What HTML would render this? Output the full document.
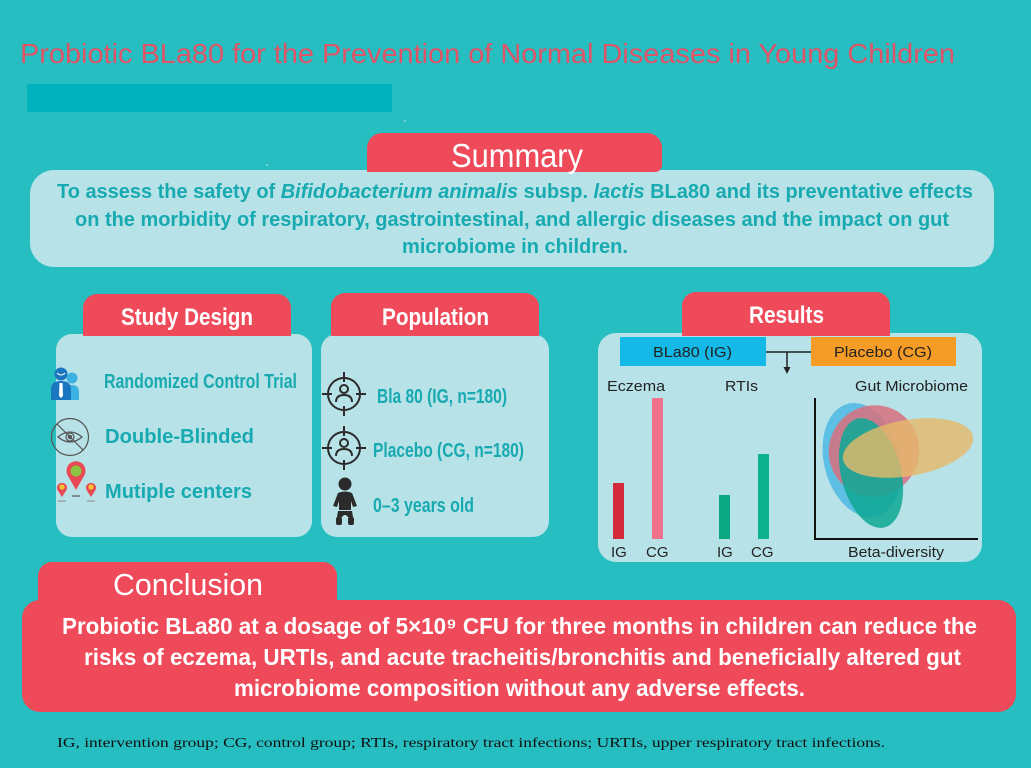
<!DOCTYPE html>
<html>
<head>
<meta charset="utf-8">
<style>
html,body{margin:0;padding:0;background:#27bec1;}
svg{display:block;}
</style>
</head>
<body>
<svg width="1031" height="768" viewBox="0 0 1031 768" xmlns="http://www.w3.org/2000/svg" font-family="'Liberation Sans', Arial, sans-serif">
  <rect x="0" y="0" width="1031" height="768" fill="#27bec1"/>

  <!-- Title -->
  <text x="20" y="63" font-size="28" fill="#e05468" textLength="935" lengthAdjust="spacingAndGlyphs">Probiotic BLa80 for the Prevention of Normal Diseases in Young Children</text>
  <rect x="27" y="84" width="365" height="28" fill="#00b2bb"/>
  <circle cx="405" cy="121" r="0.8" fill="#cfeff0"/>
  <circle cx="267" cy="165" r="0.8" fill="#cfeff0"/>

  <!-- Summary -->
  <rect x="30" y="170" width="964" height="97" rx="24" fill="#b7e2e7"/>
  <path d="M367,175 L367,148 A15,15 0 0 1 382,133 L647,133 A15,15 0 0 1 662,148 L662,165 A7,7 0 0 1 655,172 L367,172 Z" fill="#ef4a59"/>
  <text x="451" y="167" font-size="33" fill="#ffffff" textLength="132" lengthAdjust="spacingAndGlyphs">Summary</text>
  <g font-weight="bold" font-size="20.5" fill="#17aab0">
    <text x="57" y="198" textLength="916" lengthAdjust="spacingAndGlyphs">To assess the safety of <tspan font-style="italic">Bifidobacterium animalis</tspan> subsp. <tspan font-style="italic">lactis</tspan> BLa80 and its preventative effects</text>
    <text x="75" y="226" textLength="874" lengthAdjust="spacingAndGlyphs">on the morbidity of respiratory, gastrointestinal, and allergic diseases and the impact on gut</text>
    <text x="402" y="253" textLength="226" lengthAdjust="spacingAndGlyphs">microbiome in children.</text>
  </g>

  <!-- Study Design -->
  <rect x="56" y="334" width="256" height="203" rx="16" fill="#b7e2e7"/>
  <path d="M83,336 L83,308 A14,14 0 0 1 97,294 L277,294 A14,14 0 0 1 291,308 L291,336 Z" fill="#ef4a59"/>
  <text x="121" y="325" font-size="24" font-weight="bold" fill="#ffffff" textLength="132" lengthAdjust="spacingAndGlyphs">Study Design</text>

  <!-- person icon -->
  <g>
    <circle cx="72" cy="378" r="5.5" fill="#3bb3e2"/>
    <path d="M64,400 L64,392 Q64,385 72,385 Q79,385 79,392 L79,400 Z" fill="#3bb3e2"/>
    <circle cx="61" cy="374" r="6.5" fill="#1b76c0"/>
    <path d="M51,400 L51,389 Q51,381 61,381 Q71,381 71,389 L71,400 Z" fill="#1b76c0"/>
    <path d="M59.5,383 L62.5,383 L63,396 L61,398 L59,396 Z" fill="#ffffff"/>
    <path d="M57,373 Q61,377 65,373" stroke="#ffffff" stroke-width="1" fill="none"/>
  </g>
  <text x="104" y="388" font-size="20" font-weight="bold" fill="#17aab0" textLength="193" lengthAdjust="spacingAndGlyphs">Randomized Control Trial</text>

  <!-- eye icon -->
  <g fill="none" stroke="#555" stroke-width="1.2">
    <circle cx="70" cy="437" r="18.5"/>
    <path d="M58,437 Q70,427 82,437 Q70,447 58,437 Z"/>
    <circle cx="70" cy="437" r="4"/>
    <circle cx="70" cy="437" r="1.6" fill="#555"/>
    <line x1="57" y1="424" x2="83" y2="450"/>
  </g>
  <text x="105" y="443" font-size="20" font-weight="bold" fill="#17aab0" textLength="149" lengthAdjust="spacingAndGlyphs">Double-Blinded</text>

  <!-- pins icon -->
  <g>
    <path d="M76,490 L67.5,475 A9.5,9.5 0 1 1 84.5,475 Z" fill="#e84a55"/>
    <circle cx="76" cy="471" r="5.5" fill="#8cc53f"/>
    <path d="M62,497 L57.5,490 A5,5 0 1 1 66.5,490 Z" fill="#e84a55"/>
    <circle cx="62" cy="487" r="2.6" fill="#f8c630"/>
    <path d="M91,497 L86.5,490 A5,5 0 1 1 95.5,490 Z" fill="#e84a55"/>
    <circle cx="91" cy="487" r="2.6" fill="#f8c630"/>
    <line x1="72" y1="496" x2="80" y2="496" stroke="#555" stroke-width="1.2"/>
    <line x1="58" y1="501" x2="66" y2="501" stroke="#888" stroke-width="1"/>
    <line x1="87" y1="501" x2="95" y2="501" stroke="#888" stroke-width="1"/>
  </g>
  <text x="105" y="498" font-size="20" font-weight="bold" fill="#17aab0" textLength="147" lengthAdjust="spacingAndGlyphs">Mutiple centers</text>

  <!-- Population -->
  <rect x="321" y="334" width="228" height="203" rx="16" fill="#b7e2e7"/>
  <path d="M331,336 L331,307 A14,14 0 0 1 345,293 L525,293 A14,14 0 0 1 539,307 L539,336 Z" fill="#ef4a59"/>
  <text x="382" y="325" font-size="24" font-weight="bold" fill="#ffffff" textLength="107" lengthAdjust="spacingAndGlyphs">Population</text>

  <!-- crosshair icons -->
  <g fill="none" stroke="#2b2b2b" stroke-width="2">
    <circle cx="344" cy="394" r="16"/>
    <line x1="344" y1="372" x2="344" y2="382"/>
    <line x1="344" y1="406" x2="344" y2="416"/>
    <line x1="322" y1="394" x2="332" y2="394"/>
    <line x1="356" y1="394" x2="366" y2="394"/>
    <circle cx="344" cy="389" r="4"/>
    <path d="M336,402 Q336,395 344,395 Q352,395 352,402"/>

    <circle cx="344" cy="448" r="16"/>
    <line x1="344" y1="426" x2="344" y2="436"/>
    <line x1="344" y1="460" x2="344" y2="470"/>
    <line x1="322" y1="448" x2="332" y2="448"/>
    <line x1="356" y1="448" x2="366" y2="448"/>
    <circle cx="344" cy="443" r="4"/>
    <path d="M336,456 Q336,449 344,449 Q352,449 352,456"/>
  </g>
  <!-- baby icon -->
  <g fill="#2b2b2b">
    <circle cx="345" cy="484" r="6.5"/>
    <path d="M338,493 Q345,490 352,493 L357,506 L353,507 L351,501 L351,510 L339,510 L339,501 L337,507 L333,506 Z"/>
    <path d="M338,511 L352,511 L353,517 Q349,519 346,515 L344,515 Q341,519 337,517 Z"/>
    <rect x="336" y="517" width="6" height="8" rx="2"/>
    <rect x="348" y="517" width="6" height="8" rx="2"/>
  </g>
  <g font-size="20" font-weight="bold" fill="#17aab0">
    <text x="377" y="403" textLength="130" lengthAdjust="spacingAndGlyphs">Bla 80 (IG, n=180)</text>
    <text x="373" y="457" textLength="151" lengthAdjust="spacingAndGlyphs">Placebo (CG, n=180)</text>
    <text x="373" y="512" textLength="101" lengthAdjust="spacingAndGlyphs">0–3 years old</text>
  </g>

  <!-- Results -->
  <rect x="598" y="333" width="384" height="229" rx="18" fill="#b7e2e7"/>
  <path d="M682,336 L682,306 A14,14 0 0 1 696,292 L876,292 A14,14 0 0 1 890,306 L890,336 Z" fill="#ef4a59"/>
  <text x="749" y="323" font-size="24" font-weight="bold" fill="#ffffff" textLength="75" lengthAdjust="spacingAndGlyphs">Results</text>

  <rect x="620" y="337" width="146" height="29" fill="#14b9e8"/>
  <rect x="811" y="337" width="145" height="29" fill="#f59c26"/>
  <g font-size="15" fill="#222">
    <text x="653" y="357" textLength="79" lengthAdjust="spacingAndGlyphs">BLa80 (IG)</text>
    <text x="834" y="357" textLength="98" lengthAdjust="spacingAndGlyphs">Placebo (CG)</text>
    <text x="607" y="391" textLength="58" lengthAdjust="spacingAndGlyphs">Eczema</text>
    <text x="725" y="391" textLength="33" lengthAdjust="spacingAndGlyphs">RTIs</text>
    <text x="855" y="391" textLength="113" lengthAdjust="spacingAndGlyphs">Gut Microbiome</text>
    <text x="611" y="557">IG</text>
    <text x="646" y="557">CG</text>
    <text x="717" y="557">IG</text>
    <text x="751" y="557">CG</text>
    <text x="848" y="557" textLength="96" lengthAdjust="spacingAndGlyphs">Beta-diversity</text>
  </g>
  <line x1="766" y1="352" x2="811" y2="352" stroke="#222" stroke-width="1.5"/>
  <line x1="787" y1="352" x2="787" y2="368" stroke="#222" stroke-width="1.5"/>
  <path d="M783.5,367 L790.5,367 L787,374 Z" fill="#222"/>

  <!-- bars -->
  <rect x="613" y="483" width="11" height="56" fill="#d2293b"/>
  <rect x="652" y="398" width="11" height="141" fill="#ef718a"/>
  <rect x="719" y="495" width="11" height="44" fill="#0ba882"/>
  <rect x="758" y="454" width="11" height="85" fill="#0db18c"/>

  <!-- axes -->
  <line x1="815" y1="398" x2="815" y2="540" stroke="#111" stroke-width="2"/>
  <line x1="814" y1="539" x2="978" y2="539" stroke="#111" stroke-width="2"/>

  <!-- ellipses -->
  <ellipse cx="862" cy="460" rx="38" ry="58" transform="rotate(-14 862 460)" fill="#4fb9e3" fill-opacity="0.85"/>
  <ellipse cx="874" cy="451" rx="45" ry="46" transform="rotate(30 874 451)" fill="#d9707f" fill-opacity="0.85"/>
  <ellipse cx="871" cy="473" rx="30" ry="56" transform="rotate(-14 871 473)" fill="#11a896" fill-opacity="0.88"/>
  <ellipse cx="908" cy="448" rx="66" ry="28" transform="rotate(-10 908 448)" fill="#e6b96a" fill-opacity="0.8"/>

  <!-- Conclusion -->
  <rect x="22" y="600" width="994" height="112" rx="18" fill="#ef4a59"/>
  <path d="M38,605 L38,576 A14,14 0 0 1 52,562 L323,562 A14,14 0 0 1 337,576 L337,605 Z" fill="#ef4a59"/>
  <text x="113" y="595" font-size="31" fill="#ffffff" textLength="150" lengthAdjust="spacingAndGlyphs">Conclusion</text>
  <g font-size="23" font-weight="bold" fill="#ffffff">
    <text x="62" y="634" textLength="915" lengthAdjust="spacingAndGlyphs">Probiotic BLa80 at a dosage of 5×10⁹ CFU for three months in children can reduce the</text>
    <text x="84" y="665" textLength="877" lengthAdjust="spacingAndGlyphs">risks of eczema, URTIs, and acute tracheitis/bronchitis and beneficially altered gut</text>
    <text x="234" y="696" textLength="571" lengthAdjust="spacingAndGlyphs">microbiome composition without any adverse effects.</text>
  </g>

  <!-- Footer -->
  <text x="57" y="747" font-family="'Liberation Serif', 'Times New Roman', serif" font-size="14" fill="#111" textLength="828" lengthAdjust="spacingAndGlyphs">IG, intervention group; CG, control group; RTIs, respiratory tract infections; URTIs, upper respiratory tract infections.</text>
</svg>
</body>
</html>
